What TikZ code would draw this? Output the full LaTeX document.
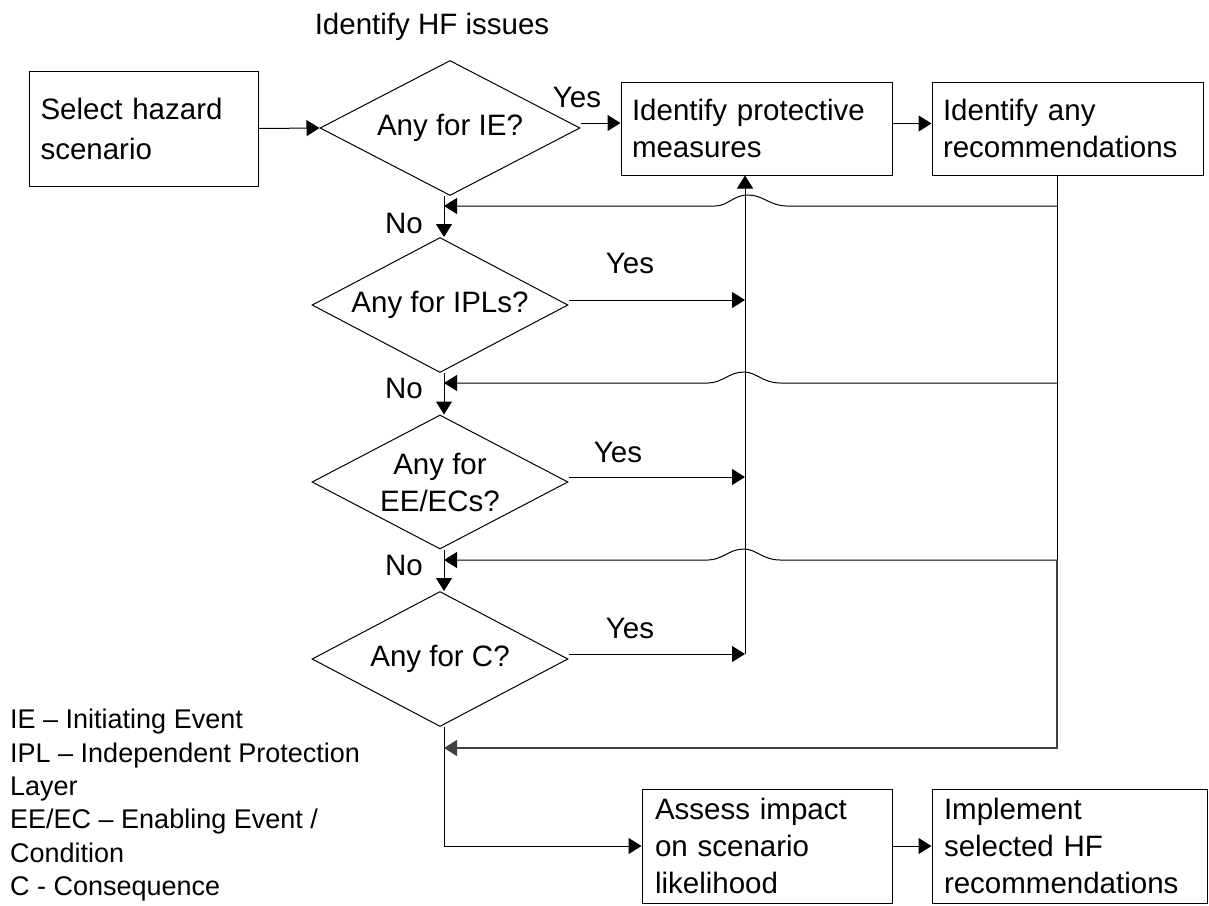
\documentclass[tikz,border=0pt]{standalone}
\usepackage{fontspec}
\setmainfont{Liberation Sans}
\usetikzlibrary{arrows.meta,shapes.geometric}
\newcommand\hfMainFont{\fontsize{29.5pt}{37pt}\selectfont}
\begin{document}
\begin{tikzpicture}[x=1pt,y=-1pt,
  line/.style={line width=1pt, draw=black},
  arr/.style={line width=1pt, draw=black, -{Triangle[length=13pt,width=16pt]}},
  box/.style={draw, line width=1pt, rectangle, inner xsep=0pt, inner ysep=0pt, align=left, font=\hfMainFont},
  dia/.style={draw, line width=1pt, diamond, shape aspect=1.9, inner sep=0pt, align=center, font=\hfMainFont},
  lbl/.style={font=\hfMainFont, inner sep=0pt}]
\useasboundingbox (0,0) rectangle (1209,905);

% title
\node[lbl] (title) at (432,27) {Identify HF issues};

% boxes
\node[box, minimum width=229pt, minimum height=115pt, text width=206pt,
      font={\fontsize{29.5pt}{40pt}\selectfont}] (A) at (143.5,128.5) {Select hazard\\scenario};
\node[box, minimum width=271pt, minimum height=93pt, text width=249pt] (B) at (756.5,128.5) {Identify protective\\measures};
\node[box, minimum width=271pt, minimum height=93pt, text width=249pt] (R) at (1067.5,128.5) {Identify any\\recommendations};
\node[box, minimum width=250pt, minimum height=114pt, text width=224pt] (C) at (767,846) {Assess impact\\on scenario\\likelihood};
\node[box, minimum width=275pt, minimum height=114pt, text width=251pt] (I) at (1069.5,846) {Implement\\selected HF\\recommendations};

% diamonds
\node[dia, minimum width=260pt, minimum height=135pt] (D1) at (450,128) {Any for IE?};
\node[dia, minimum width=256pt, minimum height=135pt] (D2) at (440,305) {Any for IPLs?};
\node[dia, minimum width=256pt, minimum height=134pt] (D3) at (440,482) {Any for\\EE/ECs?};
\node[dia, minimum width=256pt, minimum height=135pt] (D4) at (440,659) {Any for C?};

% labels
\node[lbl] (y1) at (577,97) {Yes};
\node[lbl] (y2) at (630,263) {Yes};
\node[lbl] (y3) at (618,452) {Yes};
\node[lbl] (y4) at (630,628) {Yes};
\node[lbl] (n1) at (404,223) {No};
\node[lbl] (n2) at (404,388) {No};
\node[lbl] (n3) at (404,565) {No};

% legend
\node[font={\fontsize{27pt}{33.4pt}\selectfont}, align=left, anchor=north west, inner sep=0pt] (leg) at (10,709)
  {IE – Initiating Event\\IPL – Independent Protection\\Layer\\EE/EC – Enabling Event /\\Condition\\C - Consequence};

% helper coordinates
\coordinate (vx) at (444,0);
\coordinate (vy) at (745,0);
\coordinate (rx) at (1057,0);
\coordinate (r1) at (1057,206);
\coordinate (r2) at (1057,383);
\coordinate (r3) at (1057,560);
\coordinate (l1) at (444,206);
\coordinate (l2) at (444,383);
\coordinate (l3) at (444,560);
\coordinate (l4) at (444,748);

% main flow
\draw[arr] (A.east) -- (D1.west);
\draw[arr] ([yshift=5pt]D1.east) -- ([yshift=5pt]D1.east -| B.west);
\draw[arr] ([yshift=5pt]B.east) -- ([yshift=5pt]B.east -| R.west);

\draw[arr] (D1.south -| vx) -- (D2.north -| vx);
\draw[arr] (D2.south -| vx) -- (D3.north -| vx);
\draw[arr] (D3.south -| vx) -- (D4.north -| vx);

\draw[arr] ([yshift=5pt]D2.east) -- ([yshift=5pt]D2.east -| vy);
\draw[arr] ([yshift=5pt]D3.east) -- ([yshift=5pt]D3.east -| vy);
\draw[arr] ([yshift=5pt]D4.east -| vy) -- (B.south -| vy);
\draw[arr] ([yshift=5pt]D4.east) -- ([yshift=5pt]D4.east -| vy);

% return lines with jumps
\draw[line] (R.south -| rx) -- (r3);
\draw[arr] (r1) -- (787,206) .. controls (770,206) and (763,195) .. (748,195)
  .. controls (733,195) and (728,206) .. (715,206) -- (l1);
\draw[arr] (r2) -- (780,383) .. controls (763,383) and (756,372) .. (744,372)
  .. controls (729,372) and (722,383) .. (708,383) -- (l2);
\draw[arr] (r3) -- (780,560) .. controls (763,560) and (756,549) .. (744,549)
  .. controls (729,549) and (722,560) .. (708,560) -- (l3);
\draw[arr, draw=black!75, line width=1.3pt] (r3) |- (l4);

% to the bottom boxes
\draw[arr] (D4.south -| vx) |- (C.west);
\draw[arr] (C.east) -- (I.west);
\end{tikzpicture}
\end{document}
